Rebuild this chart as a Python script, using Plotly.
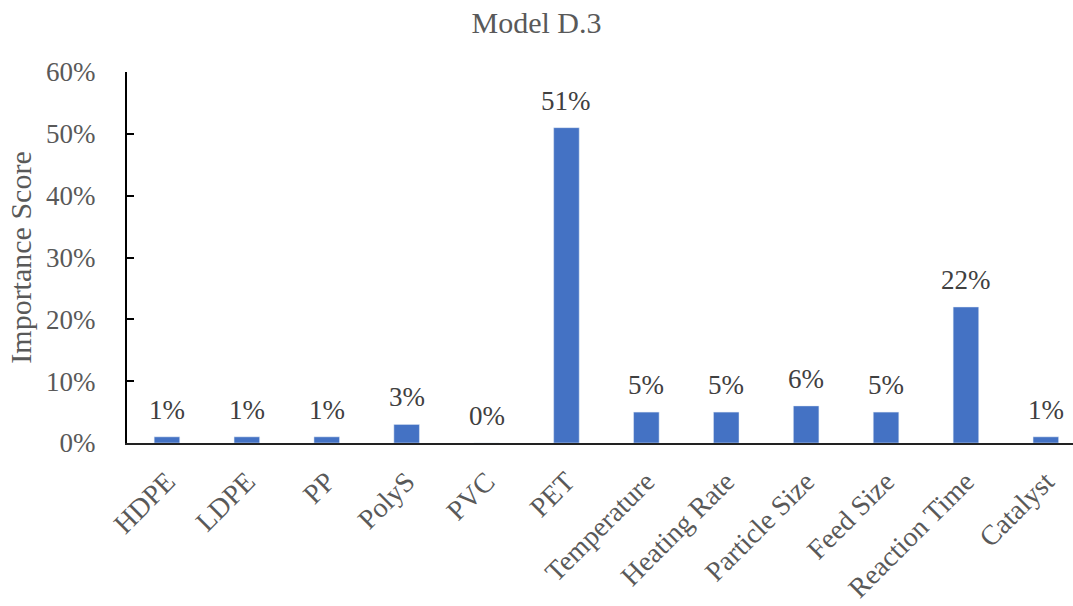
import plotly.graph_objects as go

categories = ["HDPE", "LDPE", "PP", "PolyS", "PVC", "PET", "Temperature",
              "Heating Rate", "Particle Size", "Feed Size", "Reaction Time", "Catalyst"]
values = [0.01, 0.01, 0.01, 0.03, 0.0, 0.51, 0.05, 0.05, 0.06, 0.05, 0.22, 0.01]
labels = ["1%", "1%", "1%", "3%", "0%", "51%", "5%", "5%", "6%", "5%", "22%", "1%"]
yticks = [0, 0.1, 0.2, 0.3, 0.4, 0.5, 0.6]
ytick_text = ["0%", "10%", "20%", "30%", "40%", "50%", "60%"]

font_family = "Liberation Serif, Times New Roman, serif"

fig = go.Figure(go.Bar(
    x=categories, y=values,
    marker=dict(color="#4472C4"), cliponaxis=False,
))

for c, v, t in zip(categories, values, labels):
    fig.add_annotation(x=c, y=v, text=t, showarrow=False, yanchor="bottom", yshift=10,
                       font=dict(family=font_family, size=27, color="#404040"))

fig.update_layout(
    width=1073, height=606,
    margin=dict(l=127, r=0, t=72, b=163),
    plot_bgcolor="white", paper_bgcolor="white",
    bargap=0.68,
    showlegend=False,
    title=dict(text="Model D.3", x=0.5, xref="container", xanchor="center", y=0.963, yanchor="middle",
               font=dict(family=font_family, size=30, color="#595959")),
    font=dict(family=font_family, color="#595959"),
)
fig.update_xaxes(
    range=[-0.5, 11.34],
    showline=True, linecolor="#222222", linewidth=2, tickangle=-45,
    tickfont=dict(family=font_family, size=28, color="#595959"),
    ticks="", showgrid=False, ticklabelstandoff=9,
)
fig.update_yaxes(
    range=[0, 0.6], tickvals=yticks, ticktext=ytick_text,
    showline=True, linecolor="#000000", linewidth=2,
    ticks="inside", ticklen=7, tickwidth=2, tickcolor="#000000",
    tickfont=dict(family=font_family, size=27, color="#595959"),
    ticklabelstandoff=24,
    showgrid=False, zeroline=False,
    title=dict(text="Importance Score", font=dict(family=font_family, size=30, color="#595959"),
               standoff=6),
)

fig.write_html("out.html")
